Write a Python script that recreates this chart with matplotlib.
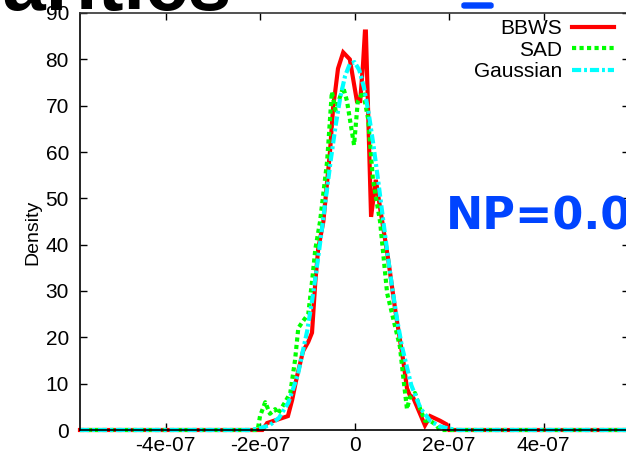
import numpy as np
import matplotlib
matplotlib.use("Agg")
import matplotlib.pyplot as plt
from matplotlib.patches import FancyBboxPatch

# ---- data (x in units of 1e-7) ----
bbws_x = [-5.81, -1.95, -1.85, -1.41, -1.32, -1.22, -1.09, -0.98, -0.90, -0.83, -0.77,
          -0.66, -0.52, -0.45, -0.41, -0.35, -0.24, -0.10, 0.05, 0.12, 0.18, 0.22, 0.24,
          0.35, 0.45, 0.54, 0.71, 0.86, 1.03, 1.11, 1.17, 1.24, 1.49, 1.60, 1.81, 1.95,
          2.00, 5.80]
bbws_y = [0, 0, 1.5, 3, 6.5, 11.5, 17, 19, 21, 32, 39,
          45, 60, 70, 73, 78, 81.5, 80, 71, 71, 79, 86, 86,
          46, 54, 48, 37, 26, 15, 9, 7.5, 7, 1, 3, 2, 1.2,
          0, 0]

sad_x = [-5.81, -2.05, -2.00, -1.89, -1.79, -1.68, -1.62, -1.47, -1.36, -1.26, -1.19,
         -1.09, -0.98, -0.90, -0.83, -0.73, -0.58, -0.48, -0.40, -0.24, -0.16, -0.01,
         0.07, 0.18, 0.29, 0.39, 0.54, 0.69, 0.82, 0.96, 1.03, 1.11, 1.17, 1.28, 1.39,
         1.49, 1.60, 1.74, 1.80, 5.80]
sad_y = [0, 0, 3, 6, 3.5, 4.5, 3.5, 6, 8, 15, 22,
         23.5, 25, 32, 39, 45, 58, 73, 69, 74, 71, 61.5,
         71, 73, 67, 54, 45, 29.5, 24, 18, 11.5, 4.5, 7, 8, 4.5,
         2, 2, 1, 0, 0]

gauss_x = [-5.81, -2.2, -2.0, -1.8, -1.6, -1.4, -1.2, -1.0, -0.9, -0.8, -0.7, -0.6, -0.5,
           -0.4, -0.3, -0.2, -0.1, 0.0, 0.1, 0.2, 0.3, 0.4, 0.5, 0.6, 0.7, 0.8, 0.9, 1.0,
           1.2, 1.4, 1.6, 1.8, 2.0, 2.2, 5.8]
gauss_y = [0, 0, 0.4, 1.0, 2.6, 5.9, 11.9, 21.5, 27.8, 34.9, 42.6, 50.6, 58.5,
           65.7, 71.9, 76.4, 79.0, 79.4, 77.7, 73.9, 68.3, 61.5, 53.8, 45.8, 37.9, 30.5, 23.9, 18.2,
           9.7, 4.6, 2.0, 0.8, 0.3, 0, 0]

xtick_vals = [-4, -2, 0, 2, 4]
xtick_labels = ["-4e-07", "-2e-07", "0", "2e-07", "4e-07"]
ytick_vals = [0, 10, 20, 30, 40, 50, 60, 70, 80, 90]

SCALE = 1e-7

W, H = 626, 454
fig = plt.figure(figsize=(W / 100, H / 100), dpi=100)
plt.rcParams['font.family'] = ['Liberation Sans', 'DejaVu Sans']

ax_left, ax_right, ax_top, ax_bottom = 80, 628.6, 13, 430
ax = fig.add_axes([ax_left / W, 1 - ax_bottom / H, (ax_right - ax_left) / W, (ax_bottom - ax_top) / H])

ax.plot(np.array(bbws_x) * SCALE, bbws_y, color='#ff0000', lw=3, label='BBWS',
        clip_on=False, solid_joinstyle='miter')
ax.plot(np.array(sad_x) * SCALE, sad_y, color='#00ff00', lw=3, label='SAD',
        linestyle=(0, (1, 0.8)), dash_capstyle='butt', clip_on=False)
ax.plot(np.array(gauss_x) * SCALE, gauss_y, color='#00ffff', lw=3, label='Gaussian',
        linestyle=(0, (2.2, 0.7, 0.7, 0.7)), dash_capstyle='butt', clip_on=False)

ax.set_xlim(-5.81 * SCALE, 5.8 * SCALE)
ax.set_ylim(0, 90)
ax.set_xticks(np.array(xtick_vals) * SCALE)
ax.set_xticklabels(xtick_labels)
ax.set_yticks(ytick_vals)
ax.tick_params(axis='both', direction='in', length=5, width=1, labelsize=15,
               top=True, right=True, colors='black')
ax.tick_params(axis='y', pad=8)
ax.tick_params(axis='x', pad=4)
for s in ax.spines.values():
    s.set_linewidth(1.2)
ax.spines['top'].set_color('#333333')

ax.set_ylabel('Density', fontsize=14)
ax.yaxis.set_label_coords((41 - ax_left) / (ax_right - ax_left), (ax_bottom - 232) / (ax_bottom - ax_top))

leg = ax.legend(loc='upper right', bbox_to_anchor=(614 / W, 1 - 19 / H),
                bbox_transform=fig.transFigure, frameon=False, markerfirst=False,
                fontsize=15, handlelength=2.0, handletextpad=0.5, labelspacing=0.12,
                borderaxespad=0, borderpad=0)

# NP annotation
fig.text(446 / W, 1 - 229 / H, 'NP=0.0', fontsize=32, fontweight='bold',
         color='#0044ff', family=['DejaVu Sans'], ha='left', va='baseline')

# cropped title
fig.text(232 / W, 1 - 10 / H, 'Similarities', fontsize=56, fontweight='bold',
         color='black', ha='right', va='baseline')

# blue mark at top
fig.patches.append(FancyBboxPatch((462 / W, 1 - 8 / H), 31 / W, 5 / H,
                                  boxstyle='round,pad=0,rounding_size=0.004',
                                  transform=fig.transFigure, color='#0044ff'))

fig.savefig('out.png', dpi=100)
